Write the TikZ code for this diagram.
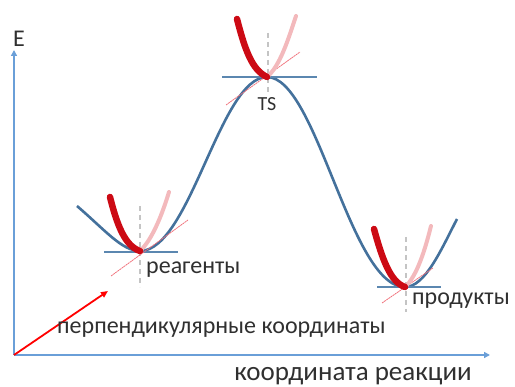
\documentclass[tikz,border=0pt]{standalone}
\usepackage{fontspec}
\setmainfont{Carlito}
\usetikzlibrary{arrows.meta}
\definecolor{axisblue}{HTML}{6A9FD8}
\definecolor{curveblue}{HTML}{44719C}
\definecolor{tanblue}{HTML}{5B87B0}
\definecolor{dred}{HTML}{CC0A14}
\definecolor{lpink}{HTML}{F3B9BC}
\definecolor{tred}{HTML}{F0707A}
\definecolor{dgray}{HTML}{C4C4C4}
\definecolor{txt}{HTML}{303030}
\tikzset{
  axis/.style={draw=axisblue, line width=2.2pt, -{Triangle[length=6pt,width=6pt]}},
  pes/.style={draw=curveblue, line width=2.6pt},
  tangent/.style={draw=tanblue, line width=1.4pt},
  thickred/.style={draw=dred, line width=6.5pt, line cap=round},
  lightpink/.style={draw=lpink, line width=4pt, line cap=round},
  thinred/.style={draw=tred, line width=0.8pt, dash pattern=on 2pt off 0.6pt},
  vdash/.style={draw=dgray, line width=1.5pt, dash pattern=on 5pt off 4pt},
  lbl/.style={text=txt, font=\fontsize{24}{28}\selectfont, inner sep=0pt},
}
\begin{document}
\begin{tikzpicture}[x=1pt,y=-1pt]
\useasboundingbox (0,0) rectangle (515,387);
% key coordinates
\coordinate (O) at (14,355);
\coordinate (Etop) at (14,50);
\coordinate (Xend) at (490,355);
\coordinate (Pv) at (108,291);
\coordinate (R) at (140,251);
\coordinate (T) at (267,77);
\coordinate (P) at (405,287);
% dashed verticals
\coordinate (Rt) at (140,206); \coordinate (Rb) at (140,287);
\coordinate (Tt) at (268,33);  \coordinate (Tb) at (268,95);
\coordinate (Pt) at (406,237); \coordinate (Pb) at (406,312);
\draw[vdash] (Rt) -- (Rb);
\draw[vdash] (Tt) -- (Tb);
\draw[vdash] (Pt) -- (Pb);
% axes
\draw[axis] (O) -- (Etop);
\draw[axis] (O) -- (Xend);
\draw[draw=red, line width=1.8pt, -{Triangle[length=7pt,width=6pt]}] (O) -- (Pv);
% potential energy curve
\coordinate (S) at (77,206);
\coordinate (Q) at (457,219);
\draw[pes] (S) .. controls (105,230) and (122,251) .. (R)
  .. controls (190,251) and (220,77) .. (T)
  .. controls (317,77) and (350,287) .. (P)
  .. controls (425,287) and (441,250) .. (Q);
% tangents
\coordinate (R1) at (104,252); \coordinate (R2) at (178,252);
\coordinate (T1) at (222,77);  \coordinate (T2) at (317,77);
\coordinate (P1) at (377,287); \coordinate (P2) at (441,287);
\draw[tangent] (R1) -- (R2);
\draw[tangent] (T1) -- (T2);
\draw[tangent] (P1) -- (P2);
% thin red lines
\coordinate (Ra) at (111,276); \coordinate (Rc) at (188,220);
\coordinate (Ta) at (226,105); \coordinate (Tc) at (300,52);
\coordinate (Pa) at (382,303); \coordinate (Pc) at (433,268);
\draw[thinred] (Ra) -- (Rc);
\draw[thinred] (Ta) -- (Tc);
\draw[thinred] (Pa) -- (Pc);
% light pink branches
\coordinate (Rp) at (169,192);
\coordinate (Tp) at (296,16);
\coordinate (Pp) at (431,226);
\draw[lightpink] (R) .. controls (152,240) and (162,215) .. (Rp);
\draw[lightpink] (T) .. controls (280,66) and (288,40) .. (Tp);
\draw[lightpink] (P) .. controls (417,276) and (425,250) .. (Pp);
% thick red branches
\coordinate (Rr) at (110,197);
\coordinate (Tr) at (237,19);
\coordinate (Pr) at (374,229);
\draw[thickred] (Rr) .. controls (117,225) and (125,246) .. (R);
\draw[thickred] (Tr) .. controls (245,50) and (252,70) .. (T);
\draw[thickred] (Pr) .. controls (382,258) and (390,282) .. (P);
% labels
\node[lbl, anchor=west] (E) at (13,39) {E};
\node[lbl, anchor=west] (reag) at (146,270) {реагенты};
\node[lbl, anchor=center, font=\fontsize{20}{23}\selectfont] (ts) at (267,104) {TS};
\node[lbl, anchor=west] (prod) at (412,301) {продукты};
\node[lbl, anchor=west] (perp) at (57,330) {перпендикулярные координаты};
\node[lbl, anchor=center, font=\fontsize{27}{31}\selectfont] (rc) at (353,376) {координата реакции};
\end{tikzpicture}
\end{document}
